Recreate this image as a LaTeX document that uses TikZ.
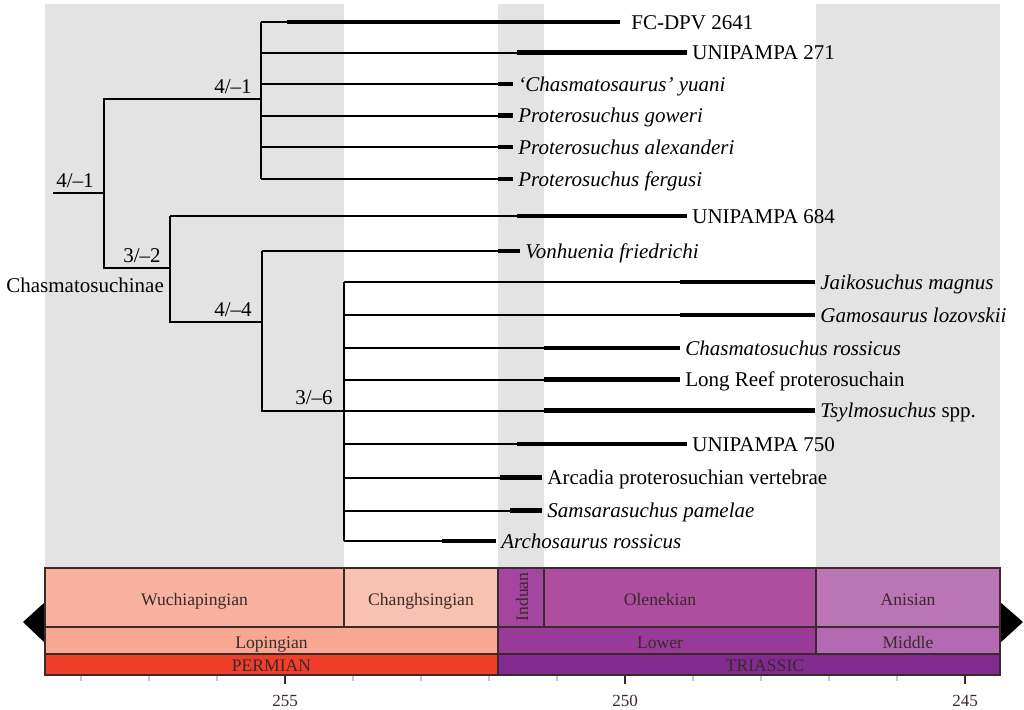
\documentclass[tikz,border=0pt]{standalone}
\usepackage{fontspec}
\setmainfont{Liberation Serif}
\definecolor{band}{HTML}{E3E3E3}
\definecolor{cWuch}{HTML}{F8B29F}
\definecolor{cChang}{HTML}{F9C1B1}
\definecolor{cLoping}{HTML}{F8A792}
\definecolor{cPerm}{HTML}{EF3E2A}
\definecolor{cInd}{HTML}{A4469F}
\definecolor{cOlen}{HTML}{AD4E9F}
\definecolor{cAnis}{HTML}{BC75B4}
\definecolor{cLower}{HTML}{983A98}
\definecolor{cMiddle}{HTML}{B26BB1}
\definecolor{cTrias}{HTML}{812B90}
\definecolor{tsline}{HTML}{3A2A2A}
\definecolor{tstext}{HTML}{3A2A2A}
\newcommand{\taxon}[6]{%
  \coordinate (#1-b) at (#3,#2);
  \coordinate (#1-s) at (#4,#2);
  \coordinate (#1-e) at (#5,#2);
  \node[tax] (#1) at ([xshift=2.5pt,yshift=-3.5pt]#1-e) {#6};
  \draw[br] (#1-b) -- (#1-s);
  \draw[rng] (#1-s) -- (#1-e);
}
\begin{document}
\begin{tikzpicture}[x=0.5pt,y=-0.5pt,
  br/.style={line width=1pt},
  rng/.style={line width=2.4pt},
  tax/.style={font=\fontsize{10.5}{12}\selectfont, inner sep=0pt, anchor=base west},
  sup/.style={font=\fontsize{10.5}{12}\selectfont, inner sep=0pt, anchor=base east},
  ts/.style={draw=tsline, line width=0.65pt},
  tsl/.style={font=\fontsize{8.8}{10}\selectfont, text=tstext, inner sep=0pt, anchor=base},
  axl/.style={font=\fontsize{8.5}{10}\selectfont, text=tstext, inner sep=0pt, anchor=base},
  tri/.style={fill=black, draw=none},
]
\useasboundingbox (0,0) rectangle (1024,709);
\fill[white] (0,0) rectangle (1024,709);
% background bands
\fill[band] (45,4) rectangle (344,568);
\fill[band] (498,4) rectangle (544,568);
\fill[band] (816,4) rectangle (1000,568);

% taxa
\taxon{t1}{22}{261}{287}{620}{\hspace{3pt}FC-DPV 2641}
\taxon{t2}{52.5}{261}{517}{687}{UNIPAMPA 271}
\taxon{t3}{84}{261}{498}{513}{\itshape ‘Chasmatosaurus’ yuani}
\taxon{t4}{115.5}{261}{498}{513}{\itshape Proterosuchus goweri}
\taxon{t5}{147}{261}{498}{513}{\itshape Proterosuchus alexanderi}
\taxon{t6}{179}{261}{498}{513}{\itshape Proterosuchus fergusi}
\taxon{t7}{216}{170}{517}{687}{UNIPAMPA 684}
\taxon{t8}{251}{262}{498}{520}{\itshape Vonhuenia friedrichi}
\taxon{t9}{282}{344}{680}{815}{\itshape Jaikosuchus magnus}
\taxon{t10}{315}{344}{680}{815}{\itshape Gamosaurus lozovskii}
\taxon{t11}{348}{344}{544}{680}{\itshape Chasmatosuchus rossicus}
\taxon{t12}{379.5}{344}{544}{680}{Long Reef proterosuchain}
\taxon{t13}{410.5}{344}{544}{815}{\textit{Tsylmosuchus} spp.}
\taxon{t14}{444}{344}{517}{687}{UNIPAMPA 750}
\taxon{t15}{477.5}{344}{500}{542}{Arcadia proterosuchian vertebrae}
\taxon{t16}{510.5}{344}{510}{542}{\itshape Samsarasuchus pamelae}
\taxon{t17}{541}{344}{442}{496}{\itshape Archosaurus rossicus}

% internal nodes
\coordinate (root0) at (53,193);
\coordinate (rootR) at (104,193);
\coordinate (rA) at (104,99);
\coordinate (rB) at (104,268);
\coordinate (nA) at (261,99);
\coordinate (nB) at (170,268);
\coordinate (nBb) at (170,322);
\coordinate (nC) at (262,322);
\coordinate (nCb) at (262,410.5);
\coordinate (nD) at (344,410.5);

\draw[br] (root0) -- (rootR);
\draw[br] (nA) -- (rA) -- (rB) -- (nB);
\draw[br] (t1-b) -- (t6-b);
\draw[br] (t7-b) -- (nBb) -- (nC);
\draw[br] (t8-b) -- (nCb) -- (nD);
\draw[br] (t9-b) -- (t17-b);

% support labels
\node[sup] (s1) at (94,187) {4/–1};
\node[sup] (s2) at (252,93) {4/–1};
\node[sup] (s3) at (161,262) {3/–2};
\node[sup] (s4) at (252,316) {4/–4};
\node[sup] (s5) at (333,404) {3/–6};
\node[tax] (clade) at (6,292) {Chasmatosuchinae};

% triangles
\fill[tri] (45,602) -- (23,622) -- (45,643) -- cycle;
\fill[tri] (1000,602) -- (1023,622) -- (1000,643) -- cycle;

% timescale
\draw[ts, fill=cWuch] (45,568) rectangle (344,627);
\draw[ts, fill=cChang] (344,568) rectangle (498,627);
\draw[ts, fill=cInd] (498,568) rectangle (544,627);
\draw[ts, fill=cOlen] (544,568) rectangle (816,627);
\draw[ts, fill=cAnis] (816,568) rectangle (1000,627);
\draw[ts, fill=cLoping] (45,627) rectangle (498,654);
\draw[ts, fill=cLower] (498,627) rectangle (816,654);
\draw[ts, fill=cMiddle] (816,627) rectangle (1000,654);
\draw[ts, fill=cPerm] (45,654) rectangle (498,675);
\draw[ts, fill=cTrias] (498,654) rectangle (1000,675);

\node[tsl] (wu) at (194.5,605) {Wuchiapingian};
\node[tsl] (ch) at (421,605) {Changhsingian};
\node[tsl, anchor=center, rotate=90] (in) at (522,597) {Induan};
\node[tsl] (ol) at (660,605) {Olenekian};
\node[tsl] (an) at (908,605) {Anisian};
\node[tsl] (lo) at (271.5,648) {Lopingian};
\node[tsl] (lw) at (660,648) {Lower};
\node[tsl] (mi) at (908,648) {Middle};
\node[tsl] (pe) at (271.5,671) {PERMIAN};
\node[tsl] (tr) at (765,671) {TRIASSIC};

% axis ticks
\foreach \t in {258,257,256,254,253,252,251,249,248,247,246}{
  \draw[line width=0.6pt, black!22] ({285+(255-\t)*68},676) -- ({285+(255-\t)*68},681);
}
\foreach \t in {255,250,245}{
  \draw[line width=0.8pt, tsline] ({285+(255-\t)*68},676) -- ({285+(255-\t)*68},684);
  \node[axl] at ({285+(255-\t)*68},706) {\t};
}
\end{tikzpicture}
\end{document}
